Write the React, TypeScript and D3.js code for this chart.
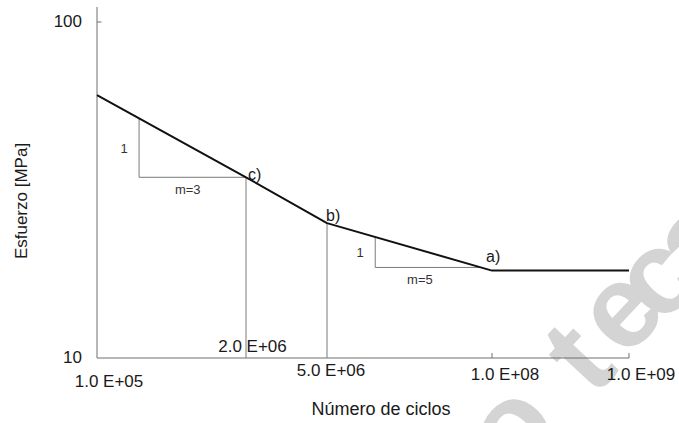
import React from "react";
import * as d3 from "d3";

// S-N curve: number of cycles vs stress range
const cycles = [1e5, 2e6, 5e6, 1e8, 1e9];
const stress = [60.6, 34.5, 25.2, 18.2, 18.2];
const pointLabels = ["", "c)", "b)", "a)", ""];
const guideCycles = [2e6, 5e6];

const xTickValues = [1e5, 2e6, 5e6, 1e8, 1e9];
const xTickLabels = ["1.0 E+05", "2.0 E+06", "5.0 E+06", "1.0 E+08", "1.0 E+09"];
const xTickMarks = [1e8, 1e9];
const yTickValues = [10, 100];
const yTickLabels = ["10", "100"];
const yTickMarks = [100];

// slope triangles: horizontal leg starts at slopeStart and sits at slopeLevel
const slopeNames = ["m=3", "m=5"];
const slopeStart = [2.33e5, 1.2e7];
const slopeLevel = [34.5, 18.6];
const slopeLabelCycles = [6.2e5, 2.7e7];

// label placement (pixels)
const xLabelOffset = [
  [12, 29],
  [6.5, -6],
  [4, 18],
  [13, 22],
  [12, 22],
];
const pointLabelOffset: Record<string, [number, number]> = {
  "c)": [2, 3],
  "b)": [-1, -2],
  "a)": [-6, -9],
};

const W = 679;
const H = 423;
const FONT = "'Liberation Sans', Arial, Helvetica, sans-serif";

const x = d3.scaleLog().domain(cycles).range([97, 246, 327, 492, 629]);
const y = d3.scaleLog().domain([10, 100]).range([358, 22]);

function stressAt(n: number): number {
  for (let i = 0; i < cycles.length - 1; i++) {
    if (n >= cycles[i] && n <= cycles[i + 1]) {
      const t = Math.log(n / cycles[i]) / Math.log(cycles[i + 1] / cycles[i]);
      return Math.exp(Math.log(stress[i]) + t * Math.log(stress[i + 1] / stress[i]));
    }
  }
  return stress[stress.length - 1];
}

function cyclesAt(s: number): number {
  for (let i = 0; i < cycles.length - 1; i++) {
    const a = stress[i];
    const b = stress[i + 1];
    if (a !== b && s <= a && s >= b) {
      const t = Math.log(s / a) / Math.log(b / a);
      return Math.exp(Math.log(cycles[i]) + t * Math.log(cycles[i + 1] / cycles[i]));
    }
  }
  return cycles[cycles.length - 1];
}

const curve = d3
  .line<number>()
  .x((_, i) => x(cycles[i]))
  .y((d) => y(d));

const watermark: { ch: string; px: number; py: number }[] = [
  { ch: "o", px: 508, py: 426 },
  { ch: "t", px: 577, py: 356 },
  { ch: "e", px: 618, py: 308 },
  { ch: "c", px: 654, py: 275 },
  { ch: "a", px: 693, py: 237 },
];

export default function App() {
  const axisColor = "#6e6e6e";
  const thin = "#7a7a7a";
  return (
    <svg
      width={W}
      height={H}
      viewBox={`0 0 ${W} ${H}`}
      style={{ position: "absolute", left: 0, top: 0, background: "#fff" }}
      fontFamily={FONT}
    >
      <rect width={W} height={H} fill="#fff" />

      {/* watermark */}
      <g fill="#d4d4d4">
        {watermark.map((w, i) => (
          <text
            key={i}
            transform={`translate(${w.px},${w.py}) rotate(-47)`}
            textAnchor="middle"
            dominantBaseline="central"
            style={{ fontSize: "118px", fontWeight: 700 }}
          >
            {w.ch}
          </text>
        ))}
      </g>

      {/* axes */}
      <line x1={x(1e5)} x2={x(1e5)} y1={7} y2={y(10)} stroke={axisColor} strokeWidth={1} />
      <line x1={x(1e5)} x2={x(1e9)} y1={y(10)} y2={y(10)} stroke={axisColor} strokeWidth={1} />
      {yTickMarks.map((v) => (
        <line key={v} x1={x(1e5)} x2={x(1e5) + 4.5} y1={y(v)} y2={y(v)} stroke={axisColor} />
      ))}
      {xTickMarks.map((v) => (
        <line key={v} x1={x(v)} x2={x(v)} y1={y(10)} y2={y(10) - 5} stroke={axisColor} />
      ))}

      {/* tick labels */}
      <g fontSize={17} fill="#1a1a1a">
        {yTickValues.map((v, i) => (
          <text key={v} x={82} y={y(v) + 5} textAnchor="end">
            {yTickLabels[i]}
          </text>
        ))}
        {xTickValues.map((v, i) => (
          <text
            key={v}
            x={x(v) + xLabelOffset[i][0]}
            y={y(10) + xLabelOffset[i][1]}
            textAnchor="middle"
          >
            {xTickLabels[i]}
          </text>
        ))}
      </g>

      {/* axis titles */}
      <text x={381} y={415} fontSize={18} textAnchor="middle" fill="#1a1a1a">
        Número de ciclos
      </text>
      <text
        transform={`translate(27,201) rotate(-90)`}
        fontSize={17}
        textAnchor="middle"
        fill="#1a1a1a"
      >
        Esfuerzo [MPa]
      </text>

      {/* vertical guides at the knee points */}
      {guideCycles.map((n) => (
        <line
          key={n}
          x1={x(n)}
          x2={x(n)}
          y1={y(stressAt(n))}
          y2={y(10)}
          stroke={thin}
          strokeWidth={1}
        />
      ))}

      {/* slope triangles */}
      {slopeNames.map((name, i) => {
        const n1 = slopeStart[i];
        const sTop = stressAt(n1);
        const sH = slopeLevel[i];
        const n2 = cyclesAt(sH);
        const xv = x(n1);
        return (
          <g key={name}>
            <path
              d={`M${xv},${y(sTop)}V${y(sH)}H${x(n2)}`}
              fill="none"
              stroke={thin}
              strokeWidth={1}
            />
            <text
              x={xv - 15}
              y={(y(sTop) + y(sH)) / 2 + 5}
              fontSize={13}
              textAnchor="middle"
              fill="#333"
            >
              1
            </text>
            <text
              x={x(slopeLabelCycles[i])}
              y={y(sH) + 17}
              fontSize={13}
              textAnchor="middle"
              fill="#333"
            >
              {name}
            </text>
          </g>
        );
      })}

      {/* S-N curve */}
      <path d={curve(stress) || ""} fill="none" stroke="#111" strokeWidth={2} strokeLinejoin="round" />

      {/* knee point labels */}
      <g fontSize={16} fill="#1a1a1a">
        {cycles.map((n, i) =>
          pointLabels[i] ? (
            <text
              key={n}
              x={x(n) + pointLabelOffset[pointLabels[i]][0]}
              y={y(stress[i]) + pointLabelOffset[pointLabels[i]][1]}
            >
              {pointLabels[i]}
            </text>
          ) : null
        )}
      </g>
    </svg>
  );
}
